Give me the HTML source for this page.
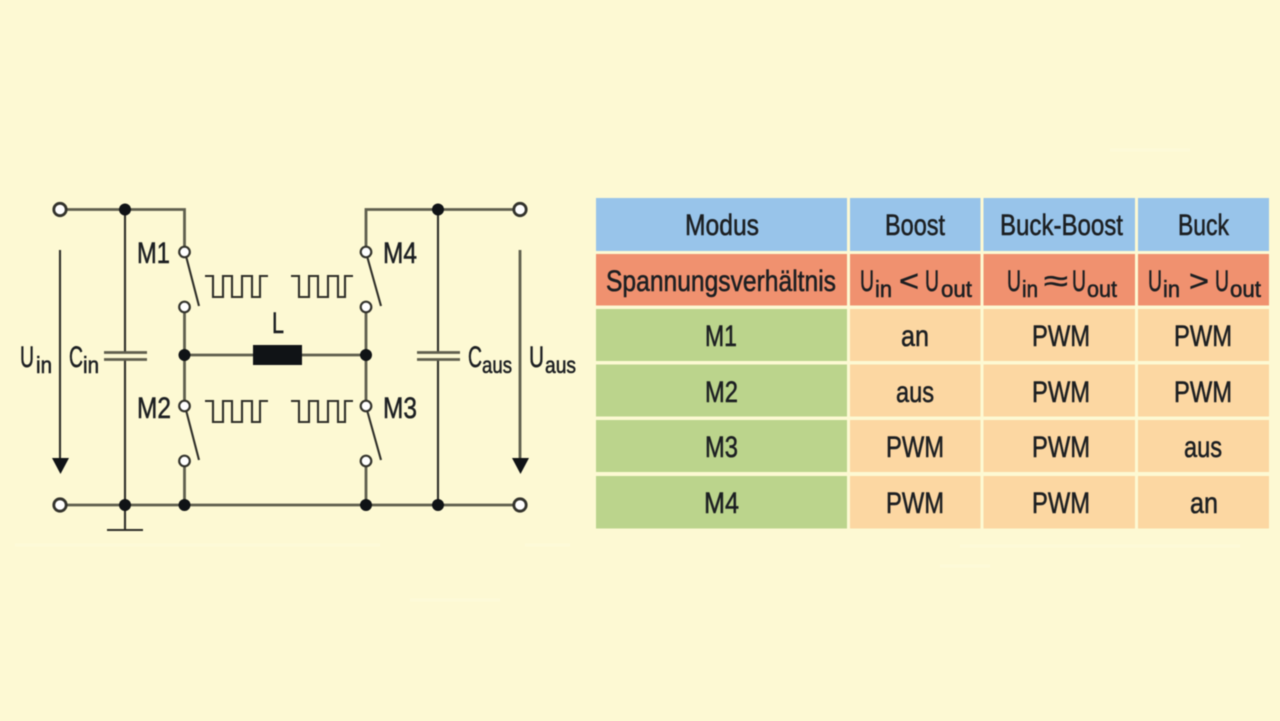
<!DOCTYPE html>
<html lang="de">
<head>
<meta charset="utf-8">
<title>Schaltung und Modustabelle</title>
<style>
html,body{margin:0;padding:0;background:#fdf9d3;width:1280px;height:721px;overflow:hidden}
svg{display:block;filter:blur(.5px)}
text{font-family:"Liberation Sans",sans-serif;fill:#1c1f22;stroke:#1c1f22;stroke-width:.55;text-anchor:start}
.m{font-size:30px}
.s{font-size:23px}
.w{fill:none;stroke:#5f5f4e;stroke-width:2.8}
.d{fill:none;stroke:#2f2f29;stroke-width:2.1}
.j{fill:#101316}
.o{fill:#fff;stroke:#33332c;stroke-width:2.2}
.t{fill:#fff;stroke:#33332c;stroke-width:2.8}
.f{fill:none;stroke:#fffde8;stroke-width:3;opacity:.3}
</style>
</head>
<body>
<svg width="1280" height="721" viewBox="0 0 1280 721" xmlns="http://www.w3.org/2000/svg">
<rect width="1280" height="721" fill="#fdf9d3"/>

<!-- faint background streaks -->
<path class="f" d="M15 545H380M525 545H570M960 546H1240M410 600H500M940 566H990M1110 150H1190"/>

<!-- wires -->
<path class="w" d="M60 209.500H184.500V252M184.500 307V406M184.500 355H254M302 355H366M366 307V406M366 252V209.500H520M60 505H520"/>
<path class="w" d="M184.500 461V505M366 461V505"/>
<path class="d" d="M125 209.500V352M125 359V530M107 530H143M438 209.500V352M438 359V505"/>
<path class="w" d="M104 352.500H147M104 359.500H147M417 352.500H460M417 359.500H460"/>

<!-- switch blades -->
<path class="d" d="M186 256L199 306M186 410L199 460M367 256L381 306M367 410L381 460"/>

<!-- arrows -->
<path class="d" d="M60 250V460"/>
<path class="w" d="M520 250V460"/>
<path class="j" d="M52 458H69L60.500 474ZM512 458H529L520.500 474Z"/>

<!-- pulses -->
<path class="d" d="M205 276H213V297H223V276H232V297H242V276H252V297H260V276H268"/>
<path class="d" d="M291 276H299V297H309V276H318V297H328V276H338V297H345V276H353"/>
<path class="d" d="M205 401H213V422H223V401H232V422H242V401H252V422H260V401H268"/>
<path class="d" d="M291 401H299V422H309V401H318V422H328V401H338V422H345V401H353"/>

<!-- inductor -->
<rect x="253" y="345" width="49" height="20" fill="#101316"/>

<!-- junctions -->
<g class="j">
<circle cx="125" cy="209.500" r="6"/><circle cx="438" cy="209.500" r="6"/>
<circle cx="184.500" cy="355" r="6"/><circle cx="366" cy="355" r="6"/>
<circle cx="125" cy="505" r="6"/><circle cx="184.500" cy="505" r="6"/>
<circle cx="366" cy="505" r="6"/><circle cx="438" cy="505" r="6"/>
</g>

<!-- switch contacts -->
<circle class="o" cx="184.500" cy="252" r="5.300"/><circle class="o" cx="184.500" cy="307" r="5.300"/>
<circle class="o" cx="184.500" cy="406" r="5.300"/><circle class="o" cx="184.500" cy="461" r="5.300"/>
<circle class="o" cx="366" cy="252" r="5.300"/><circle class="o" cx="366" cy="307" r="5.300"/>
<circle class="o" cx="366" cy="406" r="5.300"/><circle class="o" cx="366" cy="461" r="5.300"/>

<!-- terminals -->
<circle class="t" cx="60" cy="209.500" r="6.200"/><circle class="t" cx="520" cy="209.500" r="6.200"/>
<circle class="t" cx="60" cy="505" r="6.200"/><circle class="t" cx="520" cy="505" r="6.200"/>

<!-- circuit labels -->
<text class="m" x="137" y="263" textLength="33" lengthAdjust="spacingAndGlyphs">M1</text>
<text class="m" x="137" y="418" textLength="34" lengthAdjust="spacingAndGlyphs">M2</text>
<text class="m" x="383" y="263" textLength="34" lengthAdjust="spacingAndGlyphs">M4</text>
<text class="m" x="383" y="418" textLength="34" lengthAdjust="spacingAndGlyphs">M3</text>
<text class="m" x="272" y="333" textLength="12" lengthAdjust="spacingAndGlyphs">L</text>
<text class="m" x="20" y="367" textLength="14" lengthAdjust="spacingAndGlyphs">U</text>
<text class="s" x="36" y="373" textLength="16" lengthAdjust="spacingAndGlyphs">in</text>
<text class="m" x="69" y="367" textLength="14" lengthAdjust="spacingAndGlyphs">C</text>
<text class="s" x="83" y="373" textLength="16" lengthAdjust="spacingAndGlyphs">in</text>
<text class="m" x="468" y="367" textLength="14" lengthAdjust="spacingAndGlyphs">C</text>
<text class="s" x="482" y="373" textLength="30" lengthAdjust="spacingAndGlyphs">aus</text>
<text class="m" x="529" y="367" textLength="15" lengthAdjust="spacingAndGlyphs">U</text>
<text class="s" x="545" y="373" textLength="31" lengthAdjust="spacingAndGlyphs">aus</text>

<!-- table cells -->
<g fill="#98c4ea">
<rect x="596" y="198" width="251" height="53"/><rect x="850" y="198" width="130.500" height="53"/>
<rect x="983.500" y="198" width="151.500" height="53"/><rect x="1138" y="198" width="131" height="53"/>
</g>
<g fill="#f0916f">
<rect x="596" y="254" width="251" height="51.500"/><rect x="850" y="254" width="130.500" height="51.500"/>
<rect x="983.500" y="254" width="151.500" height="51.500"/><rect x="1138" y="254" width="131" height="51.500"/>
</g>
<g fill="#bbd48c">
<rect x="596" y="309" width="251" height="52"/><rect x="596" y="364.500" width="251" height="52"/>
<rect x="596" y="420" width="251" height="52"/><rect x="596" y="476" width="251" height="52.500"/>
</g>
<g fill="#fcd7a2">
<rect x="850" y="309" width="130.500" height="52"/><rect x="983.500" y="309" width="151.500" height="52"/><rect x="1138" y="309" width="131" height="52"/>
<rect x="850" y="364.500" width="130.500" height="52"/><rect x="983.500" y="364.500" width="151.500" height="52"/><rect x="1138" y="364.500" width="131" height="52"/>
<rect x="850" y="420" width="130.500" height="52"/><rect x="983.500" y="420" width="151.500" height="52"/><rect x="1138" y="420" width="131" height="52"/>
<rect x="850" y="476" width="130.500" height="52.500"/><rect x="983.500" y="476" width="151.500" height="52.500"/><rect x="1138" y="476" width="131" height="52.500"/>
</g>

<!-- table header -->
<text class="m" x="685" y="235" textLength="74" lengthAdjust="spacingAndGlyphs">Modus</text>
<text class="m" x="885" y="235" textLength="60" lengthAdjust="spacingAndGlyphs">Boost</text>
<text class="m" x="1000" y="235" textLength="123" lengthAdjust="spacingAndGlyphs">Buck-Boost</text>
<text class="m" x="1178" y="235" textLength="51" lengthAdjust="spacingAndGlyphs">Buck</text>

<!-- ratio row -->
<text class="m" x="606" y="291" textLength="230" lengthAdjust="spacingAndGlyphs">Spannungsverhältnis</text>
<text class="m" x="860" y="291" textLength="14" lengthAdjust="spacingAndGlyphs">U</text>
<text class="s" x="875" y="297" textLength="17" lengthAdjust="spacingAndGlyphs">in</text>
<text class="m" x="899" y="291" textLength="20" lengthAdjust="spacingAndGlyphs">&lt;</text>
<text class="m" x="925" y="291" textLength="14" lengthAdjust="spacingAndGlyphs">U</text>
<text class="s" x="941" y="297" textLength="31" lengthAdjust="spacingAndGlyphs">out</text>
<text class="m" x="1007" y="291" textLength="14" lengthAdjust="spacingAndGlyphs">U</text>
<text class="s" x="1022" y="297" textLength="16" lengthAdjust="spacingAndGlyphs">in</text>
<text class="m" x="1044" y="291" textLength="24" lengthAdjust="spacingAndGlyphs">≈</text>
<text class="m" x="1072" y="291" textLength="14" lengthAdjust="spacingAndGlyphs">U</text>
<text class="s" x="1087" y="297" textLength="30" lengthAdjust="spacingAndGlyphs">out</text>
<text class="m" x="1148" y="291" textLength="14" lengthAdjust="spacingAndGlyphs">U</text>
<text class="s" x="1163" y="297" textLength="17" lengthAdjust="spacingAndGlyphs">in</text>
<text class="m" x="1189" y="291" textLength="20" lengthAdjust="spacingAndGlyphs">&gt;</text>
<text class="m" x="1215" y="291" textLength="14" lengthAdjust="spacingAndGlyphs">U</text>
<text class="s" x="1230" y="297" textLength="31" lengthAdjust="spacingAndGlyphs">out</text>

<!-- data rows -->
<text class="m" x="705" y="346" textLength="32" lengthAdjust="spacingAndGlyphs">M1</text>
<text class="m" x="901" y="346" textLength="28" lengthAdjust="spacingAndGlyphs">an</text>
<text class="m" x="1032" y="346" textLength="58" lengthAdjust="spacingAndGlyphs">PWM</text>
<text class="m" x="1174" y="346" textLength="58" lengthAdjust="spacingAndGlyphs">PWM</text>

<text class="m" x="705" y="402" textLength="33" lengthAdjust="spacingAndGlyphs">M2</text>
<text class="m" x="896" y="402" textLength="38" lengthAdjust="spacingAndGlyphs">aus</text>
<text class="m" x="1032" y="402" textLength="58" lengthAdjust="spacingAndGlyphs">PWM</text>
<text class="m" x="1174" y="402" textLength="58" lengthAdjust="spacingAndGlyphs">PWM</text>

<text class="m" x="705" y="457" textLength="33" lengthAdjust="spacingAndGlyphs">M3</text>
<text class="m" x="886" y="457" textLength="58" lengthAdjust="spacingAndGlyphs">PWM</text>
<text class="m" x="1032" y="457" textLength="58" lengthAdjust="spacingAndGlyphs">PWM</text>
<text class="m" x="1184" y="457" textLength="38" lengthAdjust="spacingAndGlyphs">aus</text>

<text class="m" x="704" y="513" textLength="35" lengthAdjust="spacingAndGlyphs">M4</text>
<text class="m" x="886" y="513" textLength="58" lengthAdjust="spacingAndGlyphs">PWM</text>
<text class="m" x="1032" y="513" textLength="58" lengthAdjust="spacingAndGlyphs">PWM</text>
<text class="m" x="1190" y="513" textLength="28" lengthAdjust="spacingAndGlyphs">an</text>
</svg>
</body>
</html>
